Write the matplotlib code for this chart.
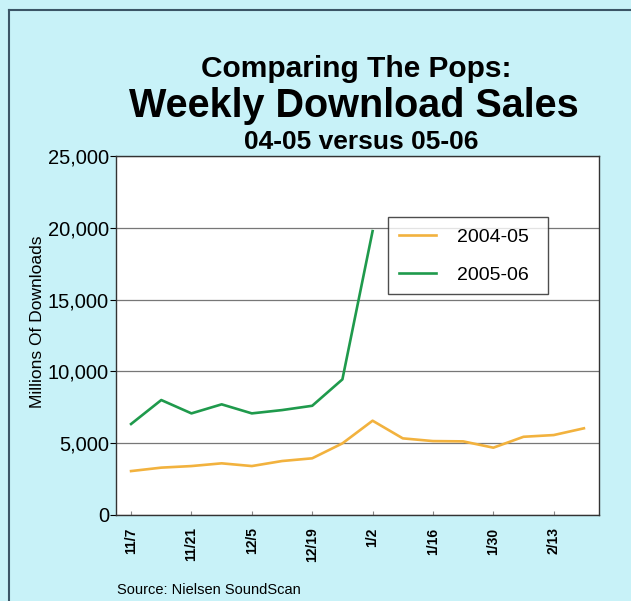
import matplotlib
matplotlib.use("Agg")
from matplotlib import pyplot as plt
from matplotlib.lines import Line2D

plt.rcParams['font.family'] = ['Liberation Sans', 'DejaVu Sans']

# weekly data, week starting dates
weeks = ["11/7", "11/14", "11/21", "11/28", "12/5", "12/12", "12/19", "12/26",
         "1/2", "1/9", "1/16", "1/23", "1/30", "2/6", "2/13", "2/20"]
sales_0405 = [3060, 3300, 3410, 3600, 3410, 3760, 3950, 4990,
              6570, 5340, 5150, 5130, 4690, 5450, 5570, 6040]
sales_0506 = [6340, 8010, 7080, 7710, 7080, 7310, 7610, 9450, 19780]
tick_labels = ["11/7", "11/21", "12/5", "12/19", "1/2", "1/16", "1/30", "2/13"]

bg = "#c8f2f8"
orange = "#f2b23e"
green = "#1f9a4c"

fig = plt.figure(figsize=(6.31, 6.01), dpi=100, facecolor=bg)
ax = fig.add_axes([0.1838, 0.1431, 0.7655, 0.597])

x_all = list(range(len(weeks)))
ax.plot(x_all, sales_0405, color=orange, lw=1.9, label="2004-05")
ax.plot(x_all[:len(sales_0506)], sales_0506, color=green, lw=1.9, label="2005-06")

ax.set_xlim(-0.5, 15.5)
ax.set_ylim(0, 25000)
ax.set_yticks([0, 5000, 10000, 15000, 20000, 25000])
ax.set_yticklabels(["0", "5,000", "10,000", "15,000", "20,000", "25,000"], fontsize=14.5)
ax.set_xticks([weeks.index(t) for t in tick_labels])
ax.set_xticklabels(tick_labels, rotation=90, fontsize=10, fontweight='bold')
ax.tick_params(axis='x', direction='in', length=3, pad=9, color='#888888')
ax.tick_params(axis='y', direction='out', length=4, pad=1)

ax.grid(axis='y', color='#777777', lw=0.9)
ax.set_axisbelow(True)
for s in ax.spines.values():
    s.set_color('#333333')
    s.set_linewidth(1.0)

ax.set_ylabel("Millions Of Downloads", fontsize=12.5)
ax.yaxis.set_label_coords(-0.147, 0.538)

leg = ax.legend(loc='upper left', bbox_to_anchor=(0.563, 0.618, 0.331, 0.212),
                mode='expand', fontsize=14,
                frameon=True, fancybox=False, edgecolor='#222222',
                handlelength=1.9, handletextpad=1.1, borderpad=0.55,
                labelspacing=1.05, borderaxespad=0)
leg.get_frame().set_linewidth(1.0)

fig.text(0.565, 0.872, "Comparing The Pops:", ha='center', va='baseline',
         fontsize=21.5, fontweight='bold')
fig.text(0.561, 0.806, "Weekly Download Sales", ha='center', va='baseline',
         fontsize=28.5, fontweight='bold')
fig.text(0.572, 0.752, "04-05 versus 05-06", ha='center', va='baseline',
         fontsize=19, fontweight='bold')
fig.text(0.186, 0.018, "Source: Nielsen SoundScan", ha='left', va='center', fontsize=10.5)

# outer frame (left and top edges visible)
fig.add_artist(Line2D([0.015, 0.015], [0.0, 0.983], color='#3b5566', lw=1.5))
fig.add_artist(Line2D([0.015, 1.0], [0.983, 0.983], color='#3b5566', lw=1.5))

fig.savefig("out.png", dpi=100, facecolor=bg)
